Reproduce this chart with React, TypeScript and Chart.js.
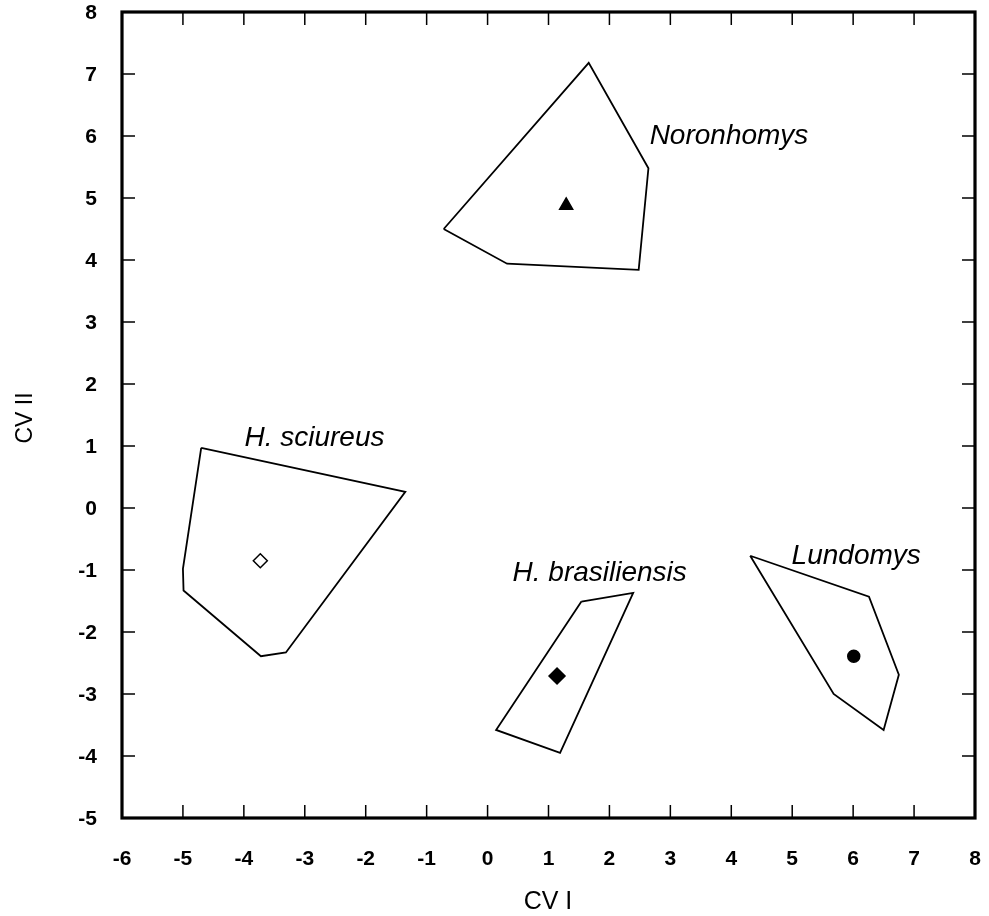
import React, { useEffect, useRef } from "react";
import { Chart, registerables } from "chart.js";

Chart.register(...registerables);

// Convex hulls of canonical variate scores (CV I, CV II) per group
const noronhomysX = [-0.72, 1.66, 2.64, 2.48, 0.32];
const noronhomysY = [4.5, 7.18, 5.48, 3.84, 3.94];

const sciureusX = [-4.7, -1.35, -3.31, -3.72, -4.99, -5.0];
const sciureusY = [0.97, 0.26, -2.33, -2.39, -1.33, -0.98];

const brasiliensisX = [1.54, 2.39, 1.19, 0.14];
const brasiliensisY = [-1.51, -1.37, -3.95, -3.58];

const lundomysX = [4.31, 6.26, 6.75, 6.5, 5.68];
const lundomysY = [-0.77, -1.43, -2.69, -3.58, -3.0];

// Group centroids
const centroidX = [1.29, -3.73, 1.14, 6.01];
const centroidY = [4.88, -0.85, -2.71, -2.39];

// Group names and where their labels sit (data units, left end of baseline)
const groupNames = ["Noronhomys", "H. sciureus", "H. brasiliensis", "Lundomys"];
const labelX = [2.66, -3.99, 0.41, 4.99];
const labelY = [5.87, 1.0, -1.18, -0.9];

const xTicks = [-6, -5, -4, -3, -2, -1, 0, 1, 2, 3, 4, 5, 6, 7, 8];
const yTicks = [-5, -4, -3, -2, -1, 0, 1, 2, 3, 4, 5, 6, 7, 8];

const xTitle = "CV I";
const yTitle = "CV II";

const FONT = "'Liberation Sans', Arial, Helvetica, sans-serif";

function hull(xs: number[], ys: number[]) {
  const pts = xs.map((x, i) => ({ x, y: ys[i] }));
  pts.push({ ...pts[0] });
  return pts;
}

const framePlugin = {
  id: "frameAndLabels",
  afterDraw(chart: any) {
    const ctx = chart.ctx as CanvasRenderingContext2D;
    const { left, right, top, bottom } = chart.chartArea;
    const xs = chart.scales.x;
    const ys = chart.scales.y;
    const tick = 13;
    ctx.save();
    ctx.strokeStyle = "#000";
    ctx.fillStyle = "#000";

    // inward tick marks on all four sides
    ctx.lineWidth = 1.5;
    ctx.beginPath();
    xTicks.slice(1, -1).forEach((v) => {
      const px = xs.getPixelForValue(v);
      ctx.moveTo(px, bottom);
      ctx.lineTo(px, bottom - tick);
      ctx.moveTo(px, top);
      ctx.lineTo(px, top + tick);
    });
    yTicks.slice(1, -1).forEach((v) => {
      const py = ys.getPixelForValue(v);
      ctx.moveTo(left, py);
      ctx.lineTo(left + tick, py);
      ctx.moveTo(right, py);
      ctx.lineTo(right - tick, py);
    });
    ctx.stroke();

    // heavy frame
    ctx.lineWidth = 3.2;
    ctx.strokeRect(left, top, right - left, bottom - top);

    // tick labels
    ctx.font = `bold 21px ${FONT}`;
    ctx.textBaseline = "middle";
    ctx.textAlign = "center";
    xTicks.forEach((v) => {
      ctx.fillText(String(v), xs.getPixelForValue(v), bottom + 41);
    });
    ctx.textAlign = "right";
    yTicks.forEach((v) => {
      ctx.fillText(String(v), left - 25, ys.getPixelForValue(v) + 1);
    });

    // group names
    ctx.font = `italic 28px ${FONT}`;
    ctx.textAlign = "left";
    ctx.textBaseline = "alphabetic";
    groupNames.forEach((name, i) => {
      ctx.fillText(name, xs.getPixelForValue(labelX[i]), ys.getPixelForValue(labelY[i]));
    });

    // axis titles
    ctx.font = `25px ${FONT}`;
    ctx.textAlign = "center";
    ctx.textBaseline = "middle";
    ctx.fillText(xTitle, 548, 902);
    ctx.save();
    ctx.translate(26, 418);
    ctx.rotate(-Math.PI / 2);
    ctx.font = `23px ${FONT}`;
    ctx.fillText(yTitle, 0, 0);
    ctx.restore();

    ctx.restore();
  },
};

export default function App() {
  const ref = useRef<HTMLCanvasElement | null>(null);

  useEffect(() => {
    if (!ref.current) return;
    const line = (xs: number[], ys: number[]) => ({
      data: hull(xs, ys),
      showLine: true,
      borderColor: "#000",
      borderWidth: 1.8,
      pointRadius: 0,
      fill: false,
      tension: 0,
    });
    const marker = (i: number, style: string, radius: number, fill: string) => ({
      data: [{ x: centroidX[i], y: centroidY[i] }],
      pointStyle: style,
      pointRadius: radius,
      pointBackgroundColor: fill,
      pointBorderColor: "#000",
      pointBorderWidth: 1.5,
      showLine: false,
    });

    const chart = new Chart(ref.current, {
      type: "scatter",
      data: {
        datasets: [
          marker(0, "triangle", 7.5, "#000"),
          marker(1, "rectRot", 7, "#fff"),
          marker(2, "rectRot", 8, "#000"),
          marker(3, "circle", 6, "#000"),
          line(noronhomysX, noronhomysY),
          line(sciureusX, sciureusY),
          line(brasiliensisX, brasiliensisY),
          line(lundomysX, lundomysY),
        ] as any,
      },
      options: {
        animation: false,
        responsive: true,
        maintainAspectRatio: false,
        layout: { padding: { top: 12, right: 14, left: 0, bottom: 0 } },
        plugins: { legend: { display: false }, tooltip: { enabled: false } },
        scales: {
          x: {
            type: "linear",
            min: -6,
            max: 8,
            afterFit: (s: any) => {
              s.height = 98;
            },
            grid: { display: false, drawTicks: false },
            border: { display: false },
            ticks: { display: false, stepSize: 1 },
          },
          y: {
            type: "linear",
            min: -5,
            max: 8,
            afterFit: (s: any) => {
              s.width = 122;
            },
            grid: { display: false, drawTicks: false },
            border: { display: false },
            ticks: { display: false, stepSize: 1 },
          },
        },
      } as any,
      plugins: [framePlugin],
    });
    return () => chart.destroy();
  }, []);

  return (
    <div style={{ position: "fixed", left: 0, top: 0, width: 989, height: 916, background: "#fff" }}>
      <canvas ref={ref} />
    </div>
  );
}
